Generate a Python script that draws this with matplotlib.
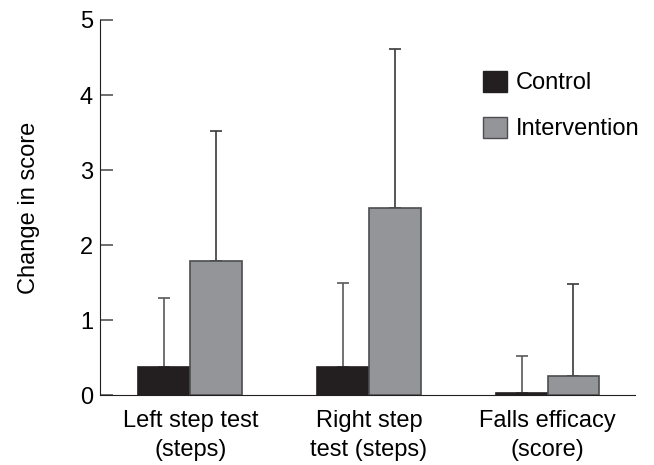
import numpy as np
from matplotlib import pyplot as plt
from matplotlib.patches import Patch

# data
categories = ["Left step test\n(steps)", "Right step\ntest (steps)", "Falls efficacy\n(score)"]
control_mean = [0.38, 0.38, 0.03]
control_sd = [0.91, 1.12, 0.49]
interv_mean = [1.79, 2.50, 0.26]
interv_sd = [1.73, 2.12, 1.22]

plt.rcParams['font.family'] = ['Liberation Sans', 'DejaVu Sans']
plt.rcParams['font.size'] = 17

fig = plt.figure(figsize=(6.54, 4.65), dpi=100)
ax = fig.add_axes([0.153, 0.150, 0.818, 0.807])

x = np.arange(len(categories))
w = 0.29
dark = '#231f20'
grey = '#939598'

ax.bar(x - w / 2, control_mean, w, color=dark, edgecolor=dark, linewidth=1.2, zorder=3)
ax.bar(x + w / 2, interv_mean, w, color=grey, edgecolor='#4d4d4f', linewidth=1.2, zorder=3)

# only the upper half of the error bars, lower part hidden behind bars
ax.errorbar(x - w / 2, control_mean, yerr=[np.zeros(3), control_sd], fmt='none',
            ecolor='#58595b', elinewidth=1.2, capsize=4, capthick=1.2, zorder=2)
ax.errorbar(x + w / 2, interv_mean, yerr=[np.zeros(3), interv_sd], fmt='none',
            ecolor='#3a3a3c', elinewidth=1.2, capsize=4, capthick=1.2, zorder=2)

ax.set_xlim(-0.505, 2.49)
ax.set_ylim(0, 5)
ax.set_yticks([0, 1, 2, 3, 4, 5])
ax.set_xticks(x)
ax.set_xticklabels(categories, linespacing=1.45)
ax.tick_params(axis='y', direction='in', length=9, width=1.2, color='#555555', pad=5)
ax.tick_params(axis='x', length=0, pad=10.5)
ax.spines['top'].set_visible(False)
ax.spines['right'].set_visible(False)
ax.spines['left'].set_color('#231f20')
ax.spines['bottom'].set_color('#231f20')
ax.set_ylabel("Change in score", labelpad=29)

handles = [Patch(facecolor=dark, edgecolor=dark), Patch(facecolor=grey, edgecolor='#4d4d4f')]
ax.legend(handles, ["Control", "Intervention"], frameon=False, loc='upper left',
          bbox_to_anchor=(0.698, 0.89), handlelength=1.0, handleheight=1.0,
          handletextpad=0.4, labelspacing=0.94, borderaxespad=0)

fig.savefig('out.png', dpi=100)
